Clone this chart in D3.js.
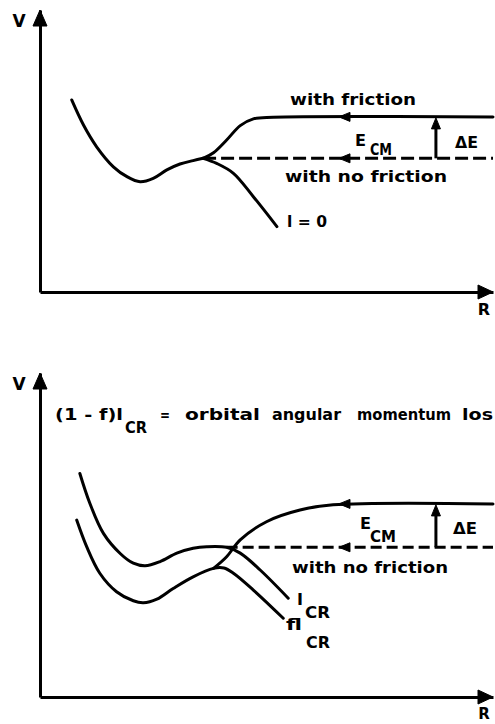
<!DOCTYPE html>
<html>
<head>
<meta charset="utf-8">
<script src="https://cdn.jsdelivr.net/npm/d3@7"></script>
<style>
  html, body { margin: 0; padding: 0; background: #fff; }
  svg { display: block; }
  text { font-family: "DejaVu Sans", sans-serif; font-weight: bold; fill: #000; }
</style>
</head>
<body>
<svg id="chart" width="495" height="724"></svg>
<script>
// Potential V(R) sketches, R and V in arbitrary units (0..100)

// --- upper diagram: l = 0 ---
const topWell = [[7.0, 68.1], [9.6, 59.2], [12.5, 51.5], [16.2, 44.4], [19.2, 40.9], [22.1, 39.1],
                 [25.0, 40.3], [28.0, 43.3], [30.9, 45.4], [33.8, 46.6], [36.0, 47.4]];
const topFriction = [[36.0, 47.4], [38.3, 49.4], [41.2, 53.9], [44.2, 59.0], [47.1, 61.4], [51.5, 62.0], [100, 62.1]];
const topNoFrictionLevel = 47.4;
const topNoFrictionStart = 36.0;
const topL0 = [[36.0, 47.4], [39.0, 45.6], [42.7, 42.1], [47.1, 33.8], [52.3, 23.2]];

// --- lower diagram: l_CR and f·l_CR ---
const botLcr = [[8.8, 69.0], [11.0, 59.8], [14.0, 50.5], [17.7, 44.3], [20.6, 41.3], [23.2, 40.5],
                [26.5, 41.8], [30.2, 44.4], [33.8, 45.9], [36.8, 46.4], [41.2, 46.2], [44.2, 44.4],
                [48.6, 39.2], [54.8, 30.5]];
const botFlcr = [[8.1, 54.6], [10.3, 46.4], [13.2, 38.2], [16.9, 32.5], [20.6, 29.7], [22.8, 29.1],
                 [25.8, 30.2], [29.4, 33.5], [33.8, 37.1], [38.3, 39.7], [40.6, 39.8], [42.7, 38.2],
                 [47.1, 33.0], [53.7, 24.3]];
const botFriction = [[38.3, 39.7], [41.2, 43.3], [44.2, 48.5], [50.0, 54.1], [57.4, 57.7], [64.7, 59.3], [100, 59.6]];
const botNoFrictionLevel = 46.2;
const botNoFrictionStart = 41.2;

// arrow positions along R
const energyArrowR = 66.0;   // E_CM direction arrows (pointing to smaller R)
const deltaEArrowR = 87.4;   // ΔE arrow between the two asymptotic levels

const svg = d3.select("#chart");

const x = d3.scaleLinear().domain([0, 100]).range([40, 493]);

const panels = [
  {
    y: d3.scaleLinear().domain([0, 100]).range([292, 10]),
    well: [topWell, topL0],
    friction: topFriction,
    level: topNoFrictionLevel,
    levelStart: topNoFrictionStart,
    dash: "13,5"
  },
  {
    y: d3.scaleLinear().domain([0, 100]).range([697, 373]),
    well: [botLcr, botFlcr],
    friction: botFriction,
    level: botNoFrictionLevel,
    levelStart: botNoFrictionStart,
    dash: "11,5"
  }
];

function arrowHead(g, tx, ty, dir, len, half) {
  // dir: "up" | "left" | "right"
  const p = d3.path();
  if (dir === "up") {
    p.moveTo(tx, ty); p.lineTo(tx - half, ty + len); p.lineTo(tx + half, ty + len);
  } else if (dir === "left") {
    p.moveTo(tx, ty); p.lineTo(tx + len, ty - half); p.lineTo(tx + len, ty + half);
  } else {
    p.moveTo(tx, ty); p.lineTo(tx - len, ty - half); p.lineTo(tx - len, ty + half);
  }
  p.closePath();
  g.append("path").attr("d", p.toString()).attr("fill", "#000").attr("stroke", "#000")
    .attr("stroke-width", 1).attr("stroke-linejoin", "round");
}

panels.forEach(P => {
  const g = svg.append("g");
  const y = P.y;

  // axes (no ticks), thick lines with arrowheads
  const ax = g.append("g").attr("transform", `translate(0,${y(0)})`)
    .call(d3.axisBottom(x).ticks(0).tickSizeOuter(0));
  const ay = g.append("g").attr("transform", `translate(${x(0)},0)`)
    .call(d3.axisLeft(y).ticks(0).tickSizeOuter(0));
  [ax, ay].forEach(a => a.select(".domain").attr("stroke", "#000").attr("stroke-width", 3));
  arrowHead(g, x(0), y(100), "up", 16, 7);
  arrowHead(g, x(100), y(0), "right", 15, 7);

  const line = d3.line().x(d => x(d[0])).y(d => y(d[1])).curve(d3.curveCatmullRom.alpha(0.5));

  P.well.concat([P.friction]).forEach(s => {
    g.append("path").attr("d", line(s)).attr("fill", "none").attr("stroke", "#000")
      .attr("stroke-width", 3).attr("stroke-linecap", "round").attr("stroke-linejoin", "round");
  });

  // no-friction asymptotic level (dashed)
  g.append("line")
    .attr("x1", x(P.levelStart)).attr("x2", x(100))
    .attr("y1", y(P.level)).attr("y2", y(P.level))
    .attr("stroke", "#000").attr("stroke-width", 3).attr("stroke-dasharray", P.dash);

  // direction arrows on both levels
  const fLevel = P.friction[P.friction.length - 1][1];
  arrowHead(g, x(energyArrowR), y(fLevel), "left", 11, 4.5);
  arrowHead(g, x(energyArrowR), y(P.level), "left", 11, 4.5);

  // ΔE arrow
  g.append("line")
    .attr("x1", x(deltaEArrowR)).attr("x2", x(deltaEArrowR))
    .attr("y1", y(P.level)).attr("y2", y(fLevel) + 8)
    .attr("stroke", "#000").attr("stroke-width", 3);
  arrowHead(g, x(deltaEArrowR), y(fLevel) + 1, "up", 11, 4.5);
});

// ---- labels ----
function label(txt, px, py, size, len, anchor) {
  const t = svg.append("text").attr("x", px).attr("y", py).attr("font-size", size).text(txt);
  if (len) t.attr("textLength", len).attr("lengthAdjust", "spacingAndGlyphs");
  if (anchor) t.attr("text-anchor", anchor);
  return t;
}

// upper diagram
label("V", 19, 27, 17, null, "middle");
label("R", 484, 315, 16, null, "middle");
label("with friction", 290, 105, 16, 126);
label("E", 355, 146, 16, 11);
label("CM", 370, 155, 16, 22);
label("ΔE", 455, 148, 16, 23);
label("with no friction", 285, 182, 16, 162);
label("l = 0", 287, 227, 16, 40);

// lower diagram
label("V", 19, 390, 17, null, "middle");
label("R", 484, 719, 15, null, "middle");
label("(1 - f)l", 55, 420, 16, 68);
label("CR", 125, 433, 16, 22);
label("=", 160, 420, 16, 10);
label("orbital", 185, 420, 16, 75);
label("angular", 272, 420, 16, 69);
label("momentum", 357, 420, 16, 94);
label("los", 462, 420, 16, 31);
label("E", 360, 529, 16, 11);
label("CM", 370, 542, 16, 26);
label("ΔE", 453, 534, 16, 24);
label("with no friction", 292, 573, 16, 156);
label("l", 297, 605, 15, 6);
label("CR", 305, 618, 16, 25);
label("fl", 286, 630, 15, 16);
label("CR", 306, 648, 16, 24);
</script>
</body>
</html>
